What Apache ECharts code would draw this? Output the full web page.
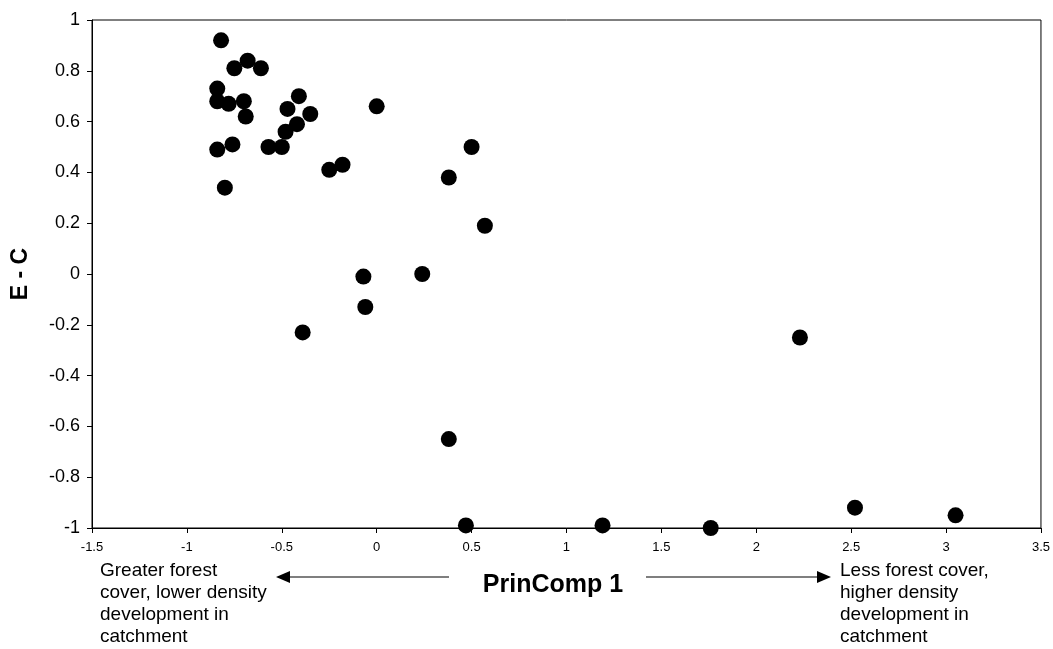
<!DOCTYPE html>
<html>
<head>
<meta charset="utf-8">
<script src="https://cdn.jsdelivr.net/npm/echarts@6/dist/echarts.min.js"></script>
<style>
  html, body { margin: 0; padding: 0; background: #fff; }
  #main { width: 1053px; height: 649px; }
</style>
</head>
<body>
<div id="main"></div>
<script>
// PrinComp 1 (x) vs E - C (y)
const princomp = [
  -0.82, -0.68, -0.75, -0.61, -0.84, -0.84, -0.78, -0.70, -0.69,
  -0.41, -0.47, -0.35, -0.42, -0.48, 0.00, -0.84, -0.76, -0.57,
  -0.50, -0.80, -0.25, -0.18, 0.38, 0.50, 0.57, -0.07, 0.24,
  -0.06, -0.39, 0.38, 0.47, 1.19, 1.76, 2.23, 2.52, 3.05
];
const ec = [
  0.92, 0.84, 0.81, 0.81, 0.73, 0.68, 0.67, 0.68, 0.62,
  0.70, 0.65, 0.63, 0.59, 0.56, 0.66, 0.49, 0.51, 0.50,
  0.50, 0.34, 0.41, 0.43, 0.38, 0.50, 0.19, -0.01, 0.00,
  -0.13, -0.23, -0.65, -0.99, -0.99, -1.00, -0.25, -0.92, -0.95
];
const leftNote = "Greater forest\ncover, lower density\ndevelopment in\ncatchment";
const rightNote = "Less forest cover,\nhigher density\ndevelopment in\ncatchment";

const points = princomp.map((x, i) => [x, ec[i]]);
const font = "'Liberation Sans', Arial, sans-serif";

const option = {
  backgroundColor: "#fff",
  animation: false,
  textStyle: { fontFamily: font, color: "#000" },
  grid: {
    left: 92,
    right: 9,
    top: 20,
    bottom: 121,
    show: true,
    borderColor: "#000",
    borderWidth: 1,
  },
  xAxis: {
    type: "value",
    min: -1.5,
    max: 3.5,
    interval: 0.5,
    splitLine: { show: false },
    axisLine: { onZero: false, lineStyle: { color: "#000", width: 1 } },
    axisTick: { length: 5, lineStyle: { color: "#000" } },
    axisLabel: { color: "#000", fontSize: 13, margin: 13, fontFamily: font },
  },
  yAxis: {
    type: "value",
    min: -1,
    max: 1,
    interval: 0.2,
    name: "E - C",
    nameLocation: "middle",
    nameRotate: 90,
    nameGap: 60,
    nameTextStyle: { fontSize: 23, fontWeight: "bold", color: "#000", fontFamily: font },
    splitLine: { show: false },
    axisLine: { onZero: false, lineStyle: { color: "#000", width: 1 } },
    axisTick: { length: 5, lineStyle: { color: "#000" } },
    axisLabel: { color: "#000", fontSize: 18, margin: 12, fontFamily: font },
  },
  series: [
    {
      type: "scatter",
      data: points,
      symbol: "circle",
      symbolSize: 16,
      itemStyle: { color: "#000", opacity: 1 },
    },
  ],
  graphic: [
    {
      type: "text",
      left: 100,
      top: 560,
      style: { text: leftNote, font: "19px " + font, fill: "#000", lineHeight: 22 },
    },
    {
      type: "text",
      left: 840,
      top: 560,
      style: { text: rightNote, font: "19px " + font, fill: "#000", lineHeight: 22 },
    },
    {
      type: "text",
      x: 553,
      y: 585,
      style: {
        text: "PrinComp 1",
        font: "bold 25px " + font,
        fill: "#000",
        align: "center",
        verticalAlign: "middle",
      },
    },
    // left arrow
    { type: "line", shape: { x1: 289, y1: 577, x2: 449, y2: 577 }, style: { stroke: "#000", lineWidth: 1.2 } },
    { type: "polygon", shape: { points: [[276, 577], [290, 571], [290, 583]] }, style: { fill: "#000" } },
    // right arrow
    { type: "line", shape: { x1: 646, y1: 577, x2: 818, y2: 577 }, style: { stroke: "#000", lineWidth: 1.2 } },
    { type: "polygon", shape: { points: [[831, 577], [817, 571], [817, 583]] }, style: { fill: "#000" } },
  ],
};

const myChart = echarts.init(document.getElementById("main"));
myChart.setOption(option);
</script>
</body>
</html>
